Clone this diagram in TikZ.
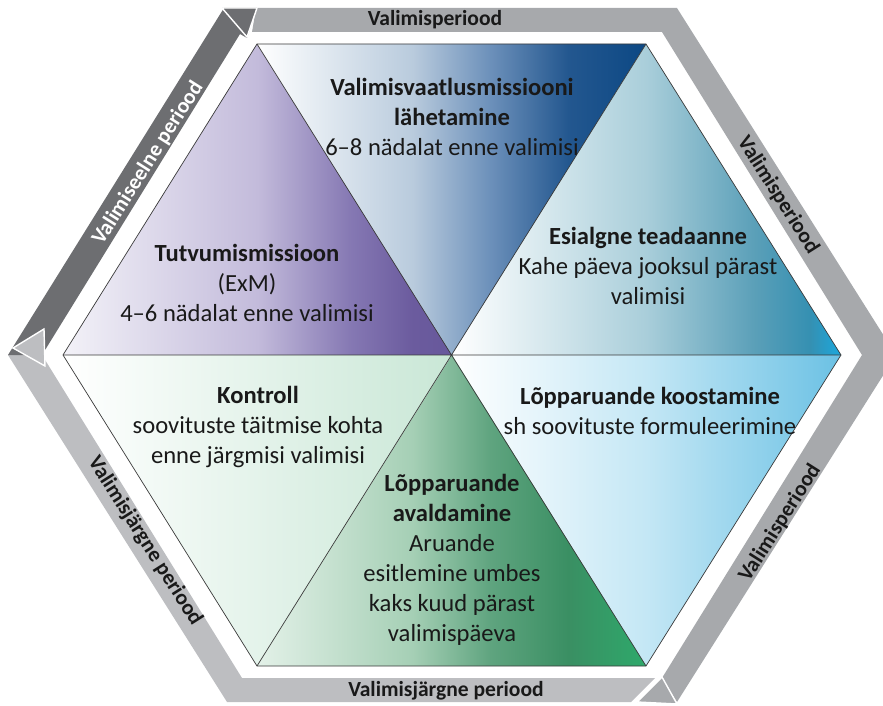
\documentclass[tikz,border=0pt]{standalone}
\usepackage{fontspec}
\setmainfont{Carlito}

\definecolor{edgegray}{HTML}{3A3A3A}
\definecolor{purpA}{HTML}{F3F2F8}
\definecolor{purpB}{HTML}{C3BBDB}
\definecolor{purpC}{HTML}{8578B3}
\definecolor{purpD}{HTML}{6B5B9E}
\definecolor{purpE}{HTML}{67589B}
\definecolor{blueA}{HTML}{B9CBDD}
\definecolor{blueB}{HTML}{6C90BA}
\definecolor{blueC}{HTML}{23578F}
\definecolor{blueD}{HTML}{0C4884}
\definecolor{tealA}{HTML}{A9CEDA}
\definecolor{tealB}{HTML}{5A9FB8}
\definecolor{tealC}{HTML}{3590B2}
\definecolor{tealD}{HTML}{1BA8DD}
\definecolor{lblueM}{HTML}{C4E7F5}
\definecolor{lblueR}{HTML}{6BC1E4}
\definecolor{greenA}{HTML}{E3F1E8}
\definecolor{greenB}{HTML}{A5CFB5}
\definecolor{greenC}{HTML}{5FA47F}
\definecolor{greenD}{HTML}{3A8F63}
\definecolor{greenE}{HTML}{2EA96B}
\definecolor{mintR}{HTML}{C9E7D6}
\definecolor{bandA}{HTML}{A7A9AC}
\definecolor{bandB}{HTML}{BDBEC1}
\definecolor{bandC}{HTML}{6D6E71}

\pgfdeclarehorizontalshading{purpshade}{100bp}{color(0bp)=(purpA); color(25bp)=(purpA); color(50bp)=(purpB); color(62bp)=(purpC); color(70bp)=(purpD); color(75bp)=(purpE); color(100bp)=(purpE)}
\pgfdeclarehorizontalshading{blueshade}{100bp}{color(0bp)=(white); color(25bp)=(white); color(45bp)=(blueA); color(55bp)=(blueB); color(65bp)=(blueC); color(75bp)=(blueD); color(100bp)=(blueD)}
\pgfdeclarehorizontalshading{tealshade}{100bp}{color(0bp)=(white); color(25bp)=(white); color(50bp)=(tealA); color(64bp)=(tealB); color(71bp)=(tealC); color(75bp)=(tealD); color(100bp)=(tealD)}
\pgfdeclarehorizontalshading{greenshade}{100bp}{color(0bp)=(greenA); color(25bp)=(greenA); color(45bp)=(greenB); color(55bp)=(greenC); color(65bp)=(greenD); color(75bp)=(greenE); color(100bp)=(greenE)}

\tikzset{
  tri/.style={draw=edgegray, line width=0.6pt},
  txt/.style={align=center, font=\fontsize{21}{25.5}\selectfont, text=black!90, inner sep=0pt},
  bandtxt/.style={font=\fontsize{18.4}{22}\selectfont\bfseries, text=black!90, inner sep=0pt},
  tip/.style={draw=white, line width=1.2pt, line join=miter}
}

\begin{document}
\begin{tikzpicture}[x=0.03cm,y=-0.03cm]
	\useasboundingbox (0,0) rectangle (883,706);
	% hexagon corners
	\coordinate (O) at (452,355);
	\coordinate (TL) at (257,44); \coordinate (TR) at (646,44); \coordinate (R) at (841,355);
	\coordinate (BR) at (646,666); \coordinate (BL) at (257,666); \coordinate (L) at (63,355);

	% outer bands
	\fill[bandA] (252,32) -- (256,8) -- (677,8) -- (896,355) -- (677,702) -- (662,678) -- (862,355) -- (662,32) -- cycle;
	\fill[bandB] (655,678) -- (631,702) -- (227,702) -- (8,355) -- (42,355) -- (242,678) -- cycle;
	\fill[bandC] (8,355) -- (224,8) -- (257,8) -- (247,38) -- (240,34) -- (42,355) -- cycle;
	\filldraw[bandA, tip] (637,702) -- (662,677) -- (677,704) -- cycle;
	\filldraw[bandB, tip] (13,348) -- (44,329) -- (45,366) -- cycle;
	\filldraw[bandC, tip] (222,8) -- (257,8) -- (247,37) -- cycle;
	\fill[white] (0,703) rectangle (883,706);

	% triangles
	\shade[shading=purpshade] (TL) -- (L) -- (O) -- cycle;
	\shade[shading=blueshade] (TL) -- (TR) -- (O) -- cycle;
	\shade[shading=tealshade] (TR) -- (O) -- (R) -- cycle;
	\shade[left color=white, right color=lblueR, middle color=lblueM] (O) -- (R) -- (BR) -- cycle;
	\shade[shading=greenshade] (O) -- (BR) -- (BL) -- cycle;
	\shade[left color=white, right color=mintR] (L) -- (O) -- (BL) -- cycle;
	\draw[tri] (TL) -- (TR) -- (R) -- (BR) -- (BL) -- (L) -- cycle;
	\draw[tri] (TL) -- (BR) (TR) -- (BL) (L) -- (R);

	% texts in the triangles
	\node[txt] (tutv) at (247,283) {\textbf{Tutvumismissioon}\\(ExM)\\4–6 nädalat enne valimisi};
	\node[txt] (vaatl) at (452,117) {\textbf{Valimisvaatlusmissiooni}\\\textbf{lähetamine}\\6–8 nädalat enne valimisi};
	\node[txt] (esialg) at (648,266) {\textbf{Esialgne teadaanne}\\Kahe päeva jooksul pärast\\valimisi};
	\node[txt] (koost) at (650,411) {\textbf{Lõpparuande koostamine}\\sh soovituste formuleerimine};
	\node[txt] (avald) at (452,560) {\textbf{Lõpparuande}\\\textbf{avaldamine}\\Aruande\\esitlemine umbes\\kaks kuud pärast\\valimispäeva};
	\node[txt] (kontr) at (258,427) {\textbf{Kontroll}\\soovituste täitmise kohta\\enne järgmisi valimisi};

	% texts in the bands
	\node[bandtxt] (per1) at (435,20) {Valimisperiood};
	\node[bandtxt, rotate=-57.6] (per2) at (778,195) {Valimisperiood};
	\node[bandtxt, rotate=57.6] (per3) at (780,523) {Valimisperiood};
	\node[bandtxt] (jarg1) at (446,691) {Valimisjärgne periood};
	\node[bandtxt, rotate=-57.6] (jarg2) at (145,541) {Valimisjärgne periood};
	\node[bandtxt, text=white, rotate=57.6] (eel) at (148,163) {Valimiseelne periood};
\end{tikzpicture}
\end{document}
